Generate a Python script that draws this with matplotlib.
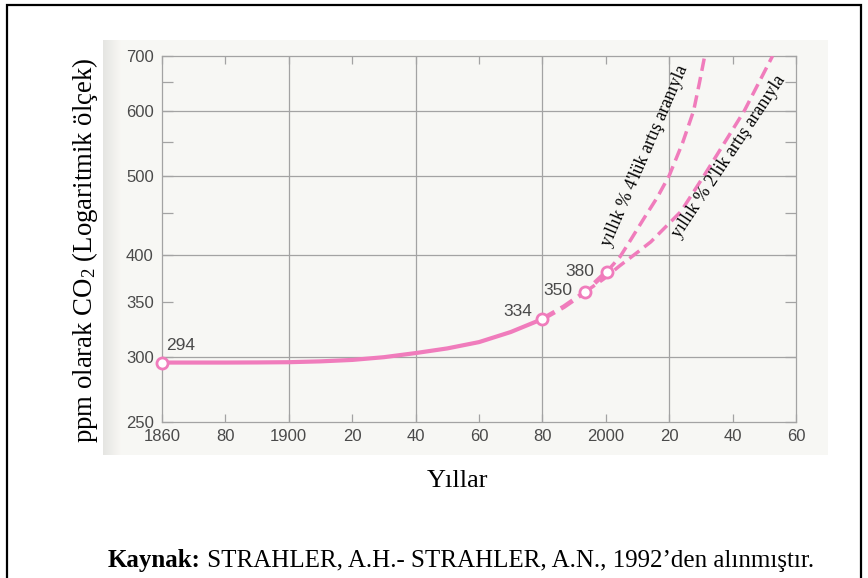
import matplotlib

matplotlib.use("Agg")
import matplotlib.pyplot as plt
import numpy as np
from matplotlib.patches import Rectangle
from matplotlib.ticker import FixedLocator, NullFormatter

plt.rcParams["mathtext.fontset"] = "custom"
plt.rcParams["mathtext.rm"] = "Liberation Serif"
plt.rcParams["mathtext.it"] = "Liberation Serif:italic"

# --- data ---
obs_years = [1860, 1870, 1880, 1890, 1900, 1910, 1920, 1930, 1940, 1950, 1960, 1970, 1980]
obs_ppm = [295.5, 295.5, 295.5, 295.6, 295.8, 296.5, 297.7, 300.0, 303.5, 307.5, 313.0, 322.0, 334.0]

recent_years = [1980, 1986.8, 1993.3, 2000.3]
recent_ppm = [334, 345.8, 360, 381.5]

pct4_years = [2000.3, 2004.5, 2007.9, 2012.3, 2016.2, 2020.0, 2024.2, 2027.7, 2029.5, 2031.2]
pct4_ppm = [381.5, 398, 417.6, 445, 470, 500, 548, 600, 648, 700]

pct2_years = [1993.3, 1999.4, 2004.4, 2010.0, 2014.2, 2023.7, 2031.0, 2043.7, 2052.6]
pct2_ppm = [360, 374, 388, 403, 415, 452, 500, 600, 700]

marker_years = [1860, 1980, 1993.3, 2000.3]
marker_ppm = [295.5, 334, 360, 381.5]
marker_labels = ["294", "334", "350", "380"]

x_ticks = list(range(1860, 2061, 20))
x_ticklabels = ["1860", "80", "1900", "20", "40", "60", "80", "2000", "20", "40", "60"]
y_ticks = [250, 300, 350, 400, 500, 600, 700]
y_minor = [450, 550, 650]
x_grid = [1900, 1940, 1980, 2020]
y_grid = [300, 400, 500, 600]

PINK = "#f07cbc"
GRID = "#a3a3a3"
SERIF = "Liberation Serif"
SANS = "Liberation Sans"

fig = plt.figure(figsize=(8.68, 5.78), dpi=100)
W, H = 868, 578


def fx(px):
    return px / W


def fy(py):
    return 1 - py / H


# scanned-page background patch with darker left edge
bg = fig.add_axes([fx(103), fy(455), fx(828) - fx(103), fy(40) - fy(455)])
shade = np.ones((1, 725))
shade[0, :18] = np.linspace(0.90, 0.97, 18)
shade[0, 18:] = 0.972
bg.imshow(np.dstack([shade, shade * 0.998, shade * 0.985]), aspect="auto",
          interpolation="bilinear")
bg.set_axis_off()

ax = fig.add_axes([fx(162), fy(422), fx(796) - fx(162), fy(56) - fy(422)])
ax.set_facecolor("none")
ax.set_yscale("log")
ax.set_xlim(1860, 2060)
ax.set_ylim(250, 700)

for x in x_grid:
    ax.axvline(x, color=GRID, lw=0.9, zorder=1)
for y in y_grid:
    ax.axhline(y, color=GRID, lw=0.9, zorder=1)

ax.set_xticks(x_ticks)
ax.set_xticklabels(x_ticklabels)
ax.yaxis.set_major_locator(FixedLocator(y_ticks))
ax.set_yticklabels([str(v) for v in y_ticks])
ax.yaxis.set_minor_locator(FixedLocator(y_minor))
ax.yaxis.set_minor_formatter(NullFormatter())
ax.xaxis.set_minor_locator(FixedLocator([]))
ax.tick_params(axis="both", which="both", direction="in", color=GRID, width=0.9,
               top=True, right=True, labelcolor="#4a4a4a")
ax.tick_params(axis="x", length=6, pad=5, labelsize=12)
ax.tick_params(axis="y", which="both", length=8, pad=6, labelsize=12)
for lab in ax.get_xticklabels() + ax.get_yticklabels():
    lab.set_family(SANS)
for sp in ax.spines.values():
    sp.set_color(GRID)
    sp.set_linewidth(0.9)

# curves
ax.plot(obs_years, obs_ppm, color=PINK, lw=3.0, solid_capstyle="butt", zorder=3)
ax.plot(recent_years, recent_ppm, color=PINK, lw=3.4, dashes=(3.0, 1.5), zorder=3)
ax.plot(pct4_years, pct4_ppm, color=PINK, lw=2.5, dashes=(3.6, 1.8), zorder=3)
ax.plot(pct2_years, pct2_ppm, color=PINK, lw=2.5, dashes=(3.6, 1.8), zorder=3)
ax.plot(marker_years, marker_ppm, ls="none", marker="o", ms=8, mfc="white",
        mec=PINK, mew=2.0, zorder=4, clip_on=False)

offsets = [(13.5, 12.5), (-17.8, 5.3), (-19, 1.2), (-19.4, 0)]
for yr, v, lab, off in zip(marker_years, marker_ppm, marker_labels, offsets):
    ax.annotate(lab, (yr, v), xytext=off, textcoords="offset points",
                ha="center", va="center", fontsize=12.5, family=SANS,
                color="#4a4a4a", zorder=5)

ax.text(2012.3, 528, "yıllık % 4'lük artış aranıyla", rotation=66.7,
        rotation_mode="anchor", ha="center", va="center", fontsize=13,
        family=SERIF, color="black", zorder=5)
ax.text(2038.7, 528, "yıllık % 2'lik artış aranıyla", rotation=56.4,
        rotation_mode="anchor", ha="center", va="center", fontsize=13,
        family=SERIF, color="black", zorder=5)

# axis titles and source line
fig.text(fx(85), fy(250), r"ppm olarak CO$_\mathrm{2}$ (Logaritmik ölçek)",
         rotation=90, ha="center", va="center", fontsize=19.3, family=SERIF)
fig.text(fx(458), fy(487), "Yıllar", ha="center", va="baseline", fontsize=19,
         family=SERIF)

t1 = fig.text(fx(108), fy(567), "Kaynak:", ha="left", va="baseline",
              fontsize=18, family=SERIF, weight="bold")
fig.canvas.draw()
bb = t1.get_window_extent()
fig.text(bb.x1 / W, fy(567), " STRAHLER, A.H.- STRAHLER, A.N., 1992’den alınmıştır.",
         ha="left", va="baseline", fontsize=18, family=SERIF)

# outer frame (bottom edge runs off the page)
fig.add_artist(Rectangle((fx(7), -0.05), fx(861) - fx(7), fy(5) + 0.05,
                         transform=fig.transFigure, fill=False, ec="black", lw=1.6))

fig.savefig("out.png", dpi=100)
